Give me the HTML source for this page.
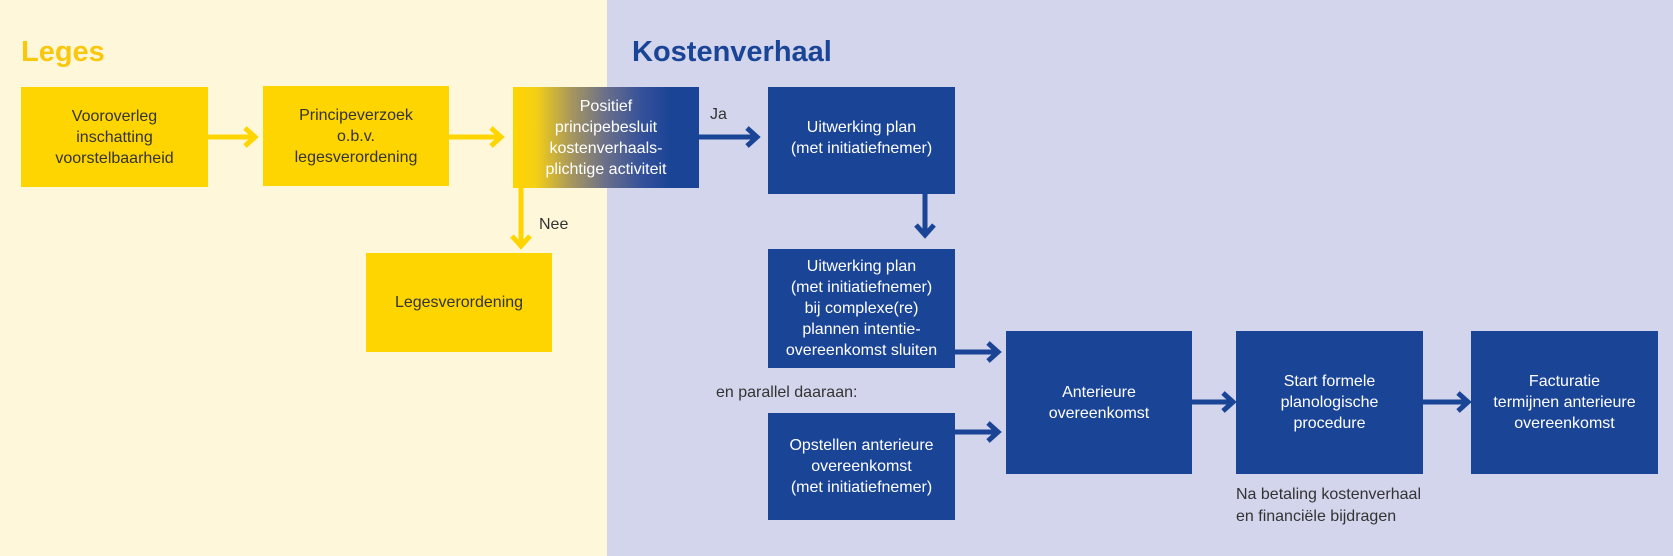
<!DOCTYPE html>
<html><head><meta charset="utf-8"><style>
body{margin:0;width:1673px;height:556px;position:relative;overflow:hidden;font-family:"Liberation Sans",sans-serif;}
.bgl{position:absolute;left:0;top:0;width:607px;height:556px;background:#FFF7DA;}
.bgr{position:absolute;left:607px;top:0;width:1066px;height:556px;background:#D3D5EC;}
.box{position:absolute;display:flex;align-items:center;justify-content:center;text-align:center;font-size:16px;line-height:21px;box-sizing:border-box;}
.y{background:#FFD500;color:#333;}
.b{background:#1A4496;color:#fff;}
.t{position:absolute;font-size:16px;line-height:21px;color:#333;}
h1{position:absolute;margin:0;font-size:29px;font-weight:bold;top:36px;}
</style></head><body>
<div class="bgl"></div><div class="bgr"></div>
<h1 style="left:21px;color:#F9C80E;">Leges</h1>
<h1 style="left:632px;color:#1A4496;">Kostenverhaal</h1>

<div class="box y" style="left:21px;top:87px;width:187px;height:100px;">Vooroverleg<br>inschatting<br>voorstelbaarheid</div>
<div class="box y" style="left:263px;top:86px;width:186px;height:100px;">Principeverzoek<br>o.b.v.<br>legesverordening</div>
<div class="box" style="left:513px;top:87px;width:186px;height:101px;color:#fff;background:linear-gradient(90deg,#FFD500 0%,#F5D015 12%,#a59560 32%,#6a6f8a 50%,#33509a 70%,#1A4496 85%);">Positief<br>principebesluit<br>kostenverhaals-<br>plichtige activiteit</div>
<div class="box y" style="left:366px;top:253px;width:186px;height:99px;">Legesverordening</div>

<div class="box b" style="left:768px;top:87px;width:187px;height:107px;padding-bottom:6px;">Uitwerking plan<br>(met initiatiefnemer)</div>
<div class="box b" style="left:768px;top:249px;width:187px;height:119px;">Uitwerking plan<br>(met initiatiefnemer)<br>bij complexe(re)<br>plannen intentie-<br>overeenkomst sluiten</div>
<div class="box b" style="left:768px;top:413px;width:187px;height:107px;">Opstellen anterieure<br>overeenkomst<br>(met initiatiefnemer)</div>
<div class="box b" style="left:1006px;top:331px;width:186px;height:143px;">Anterieure<br>overeenkomst</div>
<div class="box b" style="left:1236px;top:331px;width:187px;height:143px;">Start formele<br>planologische<br>procedure</div>
<div class="box b" style="left:1471px;top:331px;width:187px;height:143px;">Facturatie<br>termijnen anterieure<br>overeenkomst</div>

<div class="t" style="left:539px;top:214px;">Nee</div>
<div class="t" style="left:710px;top:104px;">Ja</div>
<div class="t" style="left:716px;top:382px;">en parallel daaraan:</div>
<div class="t" style="left:1236px;top:484px;line-height:22px;">Na betaling kostenverhaal<br>en financiële bijdragen</div>

<svg style="position:absolute;left:0;top:0" width="1673" height="556">
<g fill="none" stroke-width="5">
<g stroke="#FFD500">
<path d="M208 137H255M245 128l10 9-10 9"/>
<path d="M449 137H501M491 128l10 9-10 9"/>
<path d="M521 188V246M512 236l9 10 9-10"/>
</g>
<g stroke="#1A4496">
<path d="M699 137H757M747 128l10 9-10 9"/>
<path d="M925 194V235M916 225l9 10 9-10"/>
<path d="M955 352H998M988 343l10 9-10 9"/>
<path d="M955 432H998M988 423l10 9-10 9"/>
<path d="M1192 402H1233M1223 393l10 9-10 9"/>
<path d="M1423 402H1468M1458 393l10 9-10 9"/>
</g>
</g>
</svg>
</body></html>
